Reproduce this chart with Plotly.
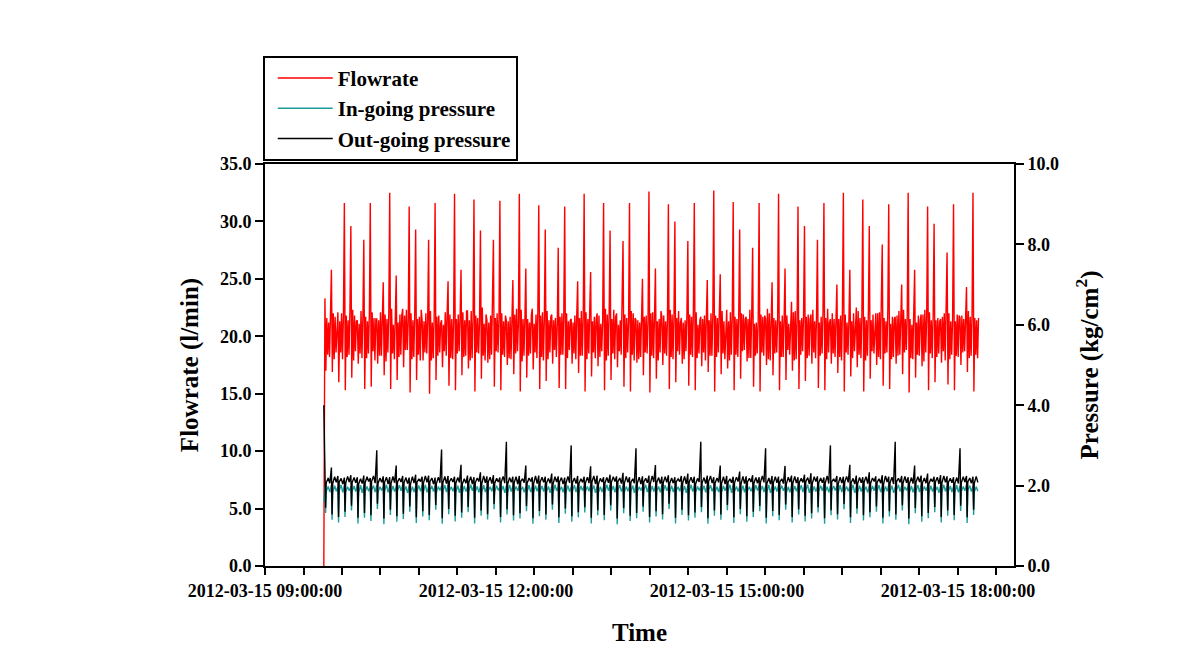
import pandas as pd
import plotly.graph_objects as go

# ---------------- data ----------------
start_time = "2012-03-15 09:45:50"     # logging starts
cycle_start = "2012-03-15 09:46:42"    # first flow spike
cycle_seconds = 303                    # spacing of the pump cycles

start_flow = 0.0
start_in = 1.60
start_out = 4.00

flow_peak = [
    23.3, 25.8, 22.1, 31.6, 29.6, 21.4, 28.4, 31.6, 21.5, 24.7, 32.5, 25.3, 22.4, 31.3, 29.3, 21.4, 28.4, 31.6, 21.4, 24.8,
    32.4, 25.8, 22.2, 31.9, 29.2, 21.4, 28.4, 31.8, 21.4, 24.9, 32.4, 25.9, 22.4, 31.4, 29.3, 21.9, 27.7, 31.3, 21.5, 24.8,
    32.4, 25.6, 22.0, 31.6, 29.2, 22.0, 28.3, 31.6, 21.4, 25.0, 32.6, 25.9, 21.7, 31.5, 30.0, 21.6, 28.3, 31.6, 21.7, 24.9,
    32.7, 25.4, 22.3, 31.7, 29.3, 21.7, 27.7, 31.6, 21.5, 24.7, 32.4, 25.9, 23.0, 31.3, 29.6, 21.9, 28.4, 31.6, 21.5, 24.5,
    32.5, 25.8, 22.5, 31.9, 29.6, 22.0, 28.0, 31.5, 21.7, 24.5, 32.5, 25.8, 21.9, 31.3, 29.8, 21.5, 27.3, 31.5, 21.6, 24.3, 32.5]

flow_trough = [
    17.0, 16.9, 16.0, 15.3, 16.4, 17.6, 15.4, 15.6, 17.6, 16.6, 15.4, 16.2, 17.3, 15.1, 16.2, 17.9, 15.0, 16.2, 17.3, 15.7,
    15.3, 16.6, 17.2, 15.2, 16.3, 17.7, 15.6, 15.3, 17.5, 16.7, 15.2, 16.4, 17.1, 15.4, 16.1, 17.6, 15.5, 15.4, 17.6, 16.8,
    15.2, 16.5, 17.4, 15.3, 16.2, 17.3, 15.6, 15.2, 17.7, 16.6, 15.1, 16.3, 17.5, 15.4, 16.0, 17.6, 15.7, 15.3, 17.4, 16.9,
    15.2, 16.7, 17.2, 15.3, 16.3, 17.8, 15.6, 15.2, 17.5, 16.6, 15.3, 16.2, 17.0, 15.4, 16.1, 17.6, 15.5, 15.3, 17.6, 16.8,
    15.2, 16.5, 17.3, 15.2, 16.3, 17.5, 15.7, 15.4, 17.6, 16.7, 15.1, 16.4, 17.4, 15.3, 16.0, 17.7, 15.8, 15.3, 17.5, 16.9, 15.2]

flow_band_a = [
    21.6, 22.0, 21.3, 21.8, 22.3, 21.1, 21.7, 22.1, 21.4, 21.9, 22.4, 21.2, 21.8, 22.0, 21.5, 21.3, 22.2, 21.7, 21.0, 21.9,
    21.5, 22.1, 21.4, 21.8, 22.5, 21.2, 21.6, 22.0, 21.3, 21.9, 22.3, 21.5, 21.1, 21.8, 22.2, 21.4, 21.7, 22.0, 21.2, 21.6,
    22.1, 21.3, 21.8, 22.4, 21.5, 21.0, 21.9, 22.2, 21.4, 21.7, 22.0, 21.3, 21.8, 22.3, 21.6, 21.2, 21.9, 22.1, 21.5, 21.4,
    21.8, 22.2, 21.3, 21.7, 22.0, 21.5, 21.1, 21.9, 22.4, 21.6, 21.3, 21.8, 22.1, 21.4, 21.7, 22.3, 21.2, 21.6, 22.0, 21.5,
    21.9, 21.3, 22.2, 21.7, 21.4, 22.0, 21.6, 21.1, 21.8, 22.3, 21.5, 21.2, 21.9, 22.1, 21.4, 21.7, 22.0, 21.3, 21.8, 22.2, 21.6]

flow_band_lo = [
    18.4, 18.0, 18.6, 18.2, 17.9, 18.5, 18.1, 18.7, 18.3, 17.8, 18.5, 18.2, 18.8, 18.0, 18.4, 18.6, 17.9, 18.3, 18.7, 18.1,
    18.5, 18.2, 17.9, 18.6, 18.3, 18.0, 18.7, 18.4, 18.1, 18.5, 17.8, 18.3, 18.6, 18.2, 18.0, 18.8, 18.4, 18.1, 18.5, 18.3,
    18.0, 18.6, 18.2, 17.9, 18.5, 18.7, 18.1, 18.4, 18.0, 18.6, 18.3, 17.9, 18.5, 18.2, 18.7, 18.0, 18.4, 18.1, 18.6, 18.3,
    18.2, 18.5, 17.9, 18.4, 18.7, 18.1, 18.3, 18.6, 18.0, 18.5, 18.2, 18.8, 17.9, 18.4, 18.1, 18.6, 18.3, 18.0, 18.5, 18.2,
    18.6, 18.1, 18.4, 17.9, 18.7, 18.2, 18.5, 18.0, 18.3, 18.6, 18.1, 18.4, 17.8, 18.5, 18.2, 18.7, 18.0, 18.3, 18.6, 18.1, 18.4]

flow_band_b = [
    21.2, 21.7, 22.0, 21.4, 21.8, 22.2, 21.3, 21.6, 22.1, 21.5, 21.0, 21.9, 22.3, 21.4, 21.7, 22.0, 21.2, 21.8, 22.1, 21.5,
    21.9, 21.4, 22.2, 21.6, 21.1, 21.8, 22.0, 21.3, 21.7, 22.4, 21.5, 21.2, 21.9, 22.1, 21.4, 21.6, 22.0, 21.3, 21.8, 22.2,
    21.5, 21.7, 21.1, 21.9, 22.3, 21.4, 21.6, 22.0, 21.2, 21.8, 22.1, 21.5, 21.3, 21.9, 22.2, 21.4, 21.7, 21.0, 21.8, 22.0,
    21.6, 21.3, 22.1, 21.5, 21.9, 22.3, 21.2, 21.7, 22.0, 21.4, 21.8, 21.1, 22.2, 21.6, 21.9, 21.3, 21.7, 22.4, 21.5, 21.8,
    21.2, 22.0, 21.6, 21.4, 21.9, 22.1, 21.3, 21.7, 22.2, 21.5, 21.0, 21.8, 22.3, 21.4, 21.6, 22.0, 21.3, 21.9, 21.5, 21.7, 21.4]

flow_band_lo2 = [
    18.2, 18.6, 18.0, 18.4, 18.7, 18.1, 18.5, 17.9, 18.3, 18.6, 18.0, 18.4, 18.8, 18.2, 17.9, 18.5, 18.1, 18.6, 18.3, 18.0,
    18.7, 18.3, 18.1, 18.5, 17.9, 18.4, 18.6, 18.2, 18.0, 18.7, 18.3, 18.5, 18.1, 17.9, 18.6, 18.2, 18.4, 18.8, 18.0, 18.3,
    18.5, 18.1, 18.7, 18.3, 18.0, 18.4, 18.6, 17.9, 18.2, 18.5, 18.1, 18.6, 18.3, 18.0, 18.4, 18.7, 18.2, 18.5, 17.9, 18.3,
    18.6, 18.0, 18.4, 18.2, 18.8, 18.1, 18.5, 18.3, 17.9, 18.6, 18.2, 18.4, 18.0, 18.7, 18.3, 18.1, 18.5, 18.6, 18.2, 17.9,
    18.4, 18.7, 18.1, 18.3, 18.5, 18.0, 18.6, 18.2, 18.4, 18.8, 18.0, 18.3, 18.6, 18.1, 18.5, 17.9, 18.4, 18.2, 18.7, 18.3, 18.1]

flow_band_c = [
    21.8, 21.4, 21.9, 22.2, 21.3, 21.7, 22.0, 21.5, 21.2, 22.1, 21.6, 21.8, 21.3, 21.9, 22.3, 21.5, 21.7, 21.1, 22.0, 21.4,
    21.7, 22.2, 21.5, 21.3, 21.9, 22.1, 21.4, 21.8, 22.0, 21.2, 21.6, 21.9, 22.3, 21.5, 21.7, 21.1, 22.0, 21.4, 21.8, 21.6,
    22.2, 21.5, 21.3, 21.9, 21.7, 22.1, 21.4, 21.6, 22.0, 21.3, 21.8, 22.2, 21.5, 21.7, 21.2, 21.9, 22.3, 21.4, 21.6, 21.8,
    22.0, 21.3, 21.7, 22.1, 21.5, 21.9, 21.2, 21.8, 22.2, 21.4, 21.6, 22.0, 21.3, 21.9, 21.5, 21.7, 22.1, 21.2, 21.8, 22.3,
    21.4, 21.6, 21.9, 22.0, 21.3, 21.7, 22.2, 21.5, 21.1, 21.8, 22.1, 21.4, 21.7, 21.9, 21.3, 22.2, 21.6, 21.8, 21.5, 21.9, 21.6]

out_hi = [
    2.22, 2.45, 2.24, 2.20, 2.26, 2.21, 2.25, 2.19, 2.88, 2.23, 2.21, 2.50, 2.24, 2.20, 2.27, 2.22, 2.25, 2.20, 2.90, 2.24,
    2.22, 2.52, 2.25, 2.21, 2.33, 2.23, 2.26, 2.20, 3.09, 2.22, 2.24, 2.50, 2.21, 2.25, 2.22, 2.30, 2.23, 2.20, 3.00, 2.24,
    2.22, 2.48, 2.25, 2.21, 2.27, 2.23, 2.32, 2.21, 2.93, 2.23, 2.25, 2.51, 2.22, 2.26, 2.21, 2.24, 2.30, 2.22, 3.09, 2.25,
    2.21, 2.50, 2.24, 2.22, 2.35, 2.23, 2.26, 2.21, 2.93, 2.24, 2.22, 2.49, 2.25, 2.21, 2.27, 2.31, 2.23, 2.20, 3.00, 2.24,
    2.22, 2.52, 2.25, 2.21, 2.33, 2.23, 2.26, 2.22, 3.09, 2.24, 2.21, 2.50, 2.25, 2.30, 2.22, 2.26, 2.23, 2.21, 2.93, 2.24, 2.22]

out_trough = [
    1.45, 1.28, 1.22, 1.35, 1.50, 1.20, 1.32, 1.26, 1.55, 1.18, 1.40, 1.24, 1.30, 1.48, 1.21, 1.36, 1.27, 1.52, 1.19, 1.42,
    1.25, 1.33, 1.47, 1.20, 1.38, 1.29, 1.54, 1.22, 1.41, 1.26, 1.31, 1.49, 1.19, 1.37, 1.28, 1.53, 1.21, 1.43, 1.24, 1.34,
    1.46, 1.20, 1.39, 1.27, 1.51, 1.18, 1.44, 1.25, 1.32, 1.48, 1.22, 1.36, 1.29, 1.55, 1.20, 1.40, 1.26, 1.33, 1.47, 1.19,
    1.38, 1.28, 1.52, 1.21, 1.42, 1.24, 1.35, 1.49, 1.20, 1.37, 1.27, 1.53, 1.22, 1.41, 1.25, 1.31, 1.46, 1.19, 1.39, 1.29,
    1.54, 1.21, 1.43, 1.26, 1.34, 1.48, 1.20, 1.36, 1.28, 1.51, 1.18, 1.44, 1.24, 1.32, 1.47, 1.22, 1.38, 1.27, 1.50, 1.21, 1.40]

out_lo = [
    2.07, 2.05, 2.09, 2.06, 2.08, 2.04, 2.07, 2.10, 2.06, 2.08, 2.05, 2.09, 2.07, 2.04, 2.08, 2.06, 2.10, 2.05, 2.07, 2.09,
    2.06, 2.04, 2.08, 2.07, 2.05, 2.09, 2.06, 2.08, 2.04, 2.07, 2.10, 2.06, 2.05, 2.08, 2.07, 2.04, 2.09, 2.06, 2.08, 2.05,
    2.07, 2.09, 2.04, 2.06, 2.08, 2.10, 2.05, 2.07, 2.06, 2.09, 2.04, 2.08, 2.07, 2.05, 2.09, 2.06, 2.08, 2.04, 2.07, 2.10,
    2.06, 2.05, 2.08, 2.07, 2.04, 2.09, 2.06, 2.08, 2.05, 2.07, 2.09, 2.04, 2.06, 2.08, 2.10, 2.05, 2.07, 2.06, 2.09, 2.04,
    2.08, 2.07, 2.05, 2.09, 2.06, 2.08, 2.04, 2.07, 2.10, 2.06, 2.05, 2.08, 2.07, 2.04, 2.09, 2.06, 2.08, 2.05, 2.07, 2.09, 2.06]

out_hi2 = [
    2.19, 2.22, 2.18, 2.23, 2.20, 2.17, 2.22, 2.24, 2.19, 2.21, 2.23, 2.18, 2.20, 2.22, 2.17, 2.24, 2.19, 2.21, 2.23, 2.18,
    2.20, 2.17, 2.22, 2.19, 2.24, 2.21, 2.18, 2.23, 2.20, 2.22, 2.17, 2.19, 2.24, 2.21, 2.18, 2.22, 2.20, 2.23, 2.19, 2.17,
    2.21, 2.24, 2.18, 2.20, 2.22, 2.19, 2.23, 2.17, 2.21, 2.18, 2.24, 2.20, 2.22, 2.19, 2.17, 2.23, 2.21, 2.18, 2.20, 2.24,
    2.19, 2.22, 2.17, 2.21, 2.23, 2.18, 2.20, 2.24, 2.19, 2.22, 2.17, 2.21, 2.23, 2.18, 2.20, 2.22, 2.19, 2.24, 2.17, 2.21,
    2.23, 2.18, 2.20, 2.22, 2.19, 2.17, 2.24, 2.21, 2.18, 2.23, 2.20, 2.22, 2.19, 2.17, 2.21, 2.24, 2.18, 2.20, 2.22, 2.19, 2.23]

out_lo2 = [
    2.06, 2.08, 2.04, 2.09, 2.07, 2.05, 2.10, 2.06, 2.08, 2.04, 2.07, 2.09, 2.05, 2.06, 2.10, 2.08, 2.04, 2.07, 2.05, 2.09,
    2.08, 2.06, 2.04, 2.10, 2.07, 2.05, 2.09, 2.06, 2.08, 2.04, 2.07, 2.10, 2.05, 2.08, 2.06, 2.09, 2.04, 2.07, 2.05, 2.08,
    2.06, 2.04, 2.09, 2.07, 2.10, 2.05, 2.08, 2.06, 2.04, 2.07, 2.09, 2.05, 2.08, 2.06, 2.10, 2.04, 2.07, 2.09, 2.05, 2.06,
    2.08, 2.04, 2.07, 2.10, 2.05, 2.09, 2.06, 2.08, 2.04, 2.07, 2.05, 2.09, 2.06, 2.08, 2.04, 2.10, 2.07, 2.05, 2.09, 2.06,
    2.08, 2.04, 2.07, 2.05, 2.10, 2.06, 2.09, 2.04, 2.08, 2.07, 2.05, 2.09, 2.06, 2.10, 2.04, 2.08, 2.07, 2.05, 2.09, 2.06, 2.08]

in_hi = [
    1.99, 2.01, 1.97, 2.00, 1.98, 2.02, 1.99, 1.97, 2.01, 1.98, 2.00, 1.97, 2.02, 1.99, 1.98, 2.01, 1.97, 2.00, 1.99, 2.02,
    1.98, 2.00, 1.97, 2.01, 1.99, 1.98, 2.02, 1.97, 2.00, 1.99, 2.01, 1.98, 1.97, 2.00, 2.02, 1.99, 1.98, 2.01, 1.97, 2.00,
    1.99, 2.02, 1.98, 1.97, 2.01, 2.00, 1.99, 1.98, 2.02, 1.97, 2.00, 1.99, 2.01, 1.98, 1.97, 2.02, 2.00, 1.99, 1.98, 2.01,
    1.97, 2.00, 1.99, 2.02, 1.98, 2.01, 1.97, 2.00, 1.99, 1.98, 2.02, 1.97, 2.01, 1.99, 2.00, 1.98, 1.97, 2.02, 2.00, 1.99,
    2.01, 1.98, 1.97, 2.00, 1.99, 2.02, 1.98, 2.01, 1.97, 2.00, 1.99, 1.98, 2.02, 2.00, 1.97, 2.01, 1.99, 1.98, 2.00, 2.02, 1.99]

in_trough = [
    1.32, 1.15, 1.08, 1.22, 1.38, 1.06, 1.20, 1.12, 1.42, 1.04, 1.27, 1.10, 1.17, 1.35, 1.07, 1.23, 1.14, 1.40, 1.05, 1.29,
    1.11, 1.20, 1.34, 1.06, 1.25, 1.16, 1.41, 1.08, 1.28, 1.13, 1.18, 1.36, 1.05, 1.24, 1.15, 1.40, 1.07, 1.30, 1.10, 1.21,
    1.33, 1.06, 1.26, 1.14, 1.38, 1.04, 1.31, 1.12, 1.19, 1.35, 1.08, 1.23, 1.16, 1.42, 1.06, 1.27, 1.13, 1.20, 1.34, 1.05,
    1.25, 1.15, 1.39, 1.07, 1.29, 1.10, 1.22, 1.36, 1.06, 1.24, 1.14, 1.40, 1.08, 1.28, 1.11, 1.18, 1.33, 1.05, 1.26, 1.16,
    1.41, 1.07, 1.30, 1.13, 1.21, 1.35, 1.06, 1.23, 1.15, 1.38, 1.04, 1.31, 1.10, 1.19, 1.34, 1.08, 1.25, 1.14, 1.37, 1.07, 1.27]

in_lo = [
    1.85, 1.83, 1.87, 1.84, 1.86, 1.82, 1.85, 1.88, 1.84, 1.86, 1.83, 1.87, 1.85, 1.82, 1.86, 1.84, 1.88, 1.83, 1.85, 1.87,
    1.84, 1.82, 1.86, 1.85, 1.83, 1.87, 1.84, 1.86, 1.82, 1.85, 1.88, 1.84, 1.83, 1.86, 1.85, 1.82, 1.87, 1.84, 1.86, 1.83,
    1.85, 1.87, 1.82, 1.84, 1.86, 1.88, 1.83, 1.85, 1.84, 1.87, 1.82, 1.86, 1.85, 1.83, 1.87, 1.84, 1.86, 1.82, 1.85, 1.88,
    1.84, 1.83, 1.86, 1.85, 1.82, 1.87, 1.84, 1.86, 1.83, 1.85, 1.87, 1.82, 1.84, 1.86, 1.88, 1.83, 1.85, 1.84, 1.87, 1.82,
    1.86, 1.85, 1.83, 1.87, 1.84, 1.86, 1.82, 1.85, 1.88, 1.84, 1.83, 1.86, 1.85, 1.82, 1.87, 1.84, 1.86, 1.83, 1.85, 1.87, 1.84]

in_hi2 = [
    1.98, 2.00, 2.02, 1.97, 1.99, 2.01, 1.98, 2.00, 1.97, 2.02, 1.99, 2.01, 1.98, 1.97, 2.00, 2.02, 1.99, 1.98, 2.01, 1.97,
    2.00, 1.99, 2.02, 1.98, 2.01, 1.97, 2.00, 1.99, 2.02, 1.98, 1.97, 2.01, 2.00, 1.99, 1.98, 2.02, 1.97, 2.00, 2.01, 1.99,
    1.98, 2.00, 1.97, 2.02, 1.99, 2.01, 1.98, 2.00, 1.97, 2.02, 1.99, 1.98, 2.01, 2.00, 1.97, 1.99, 2.02, 1.98, 2.00, 2.01,
    1.97, 1.99, 2.02, 1.98, 2.00, 1.97, 2.01, 1.99, 2.02, 1.98, 2.00, 1.97, 1.99, 2.01, 2.02, 1.98, 2.00, 1.97, 1.99, 2.01,
    1.98, 2.02, 2.00, 1.97, 1.99, 2.01, 1.98, 2.00, 2.02, 1.97, 1.99, 2.01, 1.98, 2.00, 1.97, 2.02, 1.99, 2.01, 1.98, 2.00, 1.97]

in_lo2 = [
    1.84, 1.86, 1.83, 1.87, 1.85, 1.82, 1.86, 1.84, 1.88, 1.83, 1.85, 1.87, 1.82, 1.84, 1.86, 1.83, 1.85, 1.88, 1.84, 1.86,
    1.82, 1.85, 1.87, 1.83, 1.84, 1.86, 1.88, 1.82, 1.85, 1.87, 1.83, 1.84, 1.86, 1.85, 1.82, 1.87, 1.83, 1.85, 1.84, 1.88,
    1.86, 1.82, 1.84, 1.87, 1.83, 1.85, 1.86, 1.82, 1.88, 1.84, 1.85, 1.83, 1.87, 1.84, 1.86, 1.82, 1.85, 1.88, 1.83, 1.86,
    1.84, 1.87, 1.82, 1.85, 1.83, 1.86, 1.88, 1.84, 1.82, 1.85, 1.87, 1.83, 1.86, 1.84, 1.82, 1.85, 1.87, 1.83, 1.88, 1.84,
    1.86, 1.82, 1.85, 1.83, 1.87, 1.84, 1.86, 1.82, 1.85, 1.88, 1.83, 1.84, 1.87, 1.85, 1.82, 1.86, 1.84, 1.83, 1.87, 1.85, 1.86]

x_tick_vals = ["2012-03-15 09:00:00", "2012-03-15 12:00:00",
               "2012-03-15 15:00:00", "2012-03-15 18:00:00"]
x_range = ["2012-03-15 09:00:00", "2012-03-15 18:43:40"]

# sampling offsets inside one pump cycle (fraction of the cycle)
flow_offsets = [0.0, 1 / 7, 2 / 7, 3 / 7, 4 / 7, 5 / 7, 6 / 7]
press_offsets = [0.0, 0.1, 0.2, 0.5, 0.75]

# ---------------- build the series ----------------
t0 = pd.Timestamp(cycle_start)
per = pd.Timedelta(seconds=cycle_seconds)
n = len(flow_peak)

flow_t = [pd.Timestamp(start_time)]
flow_v = [start_flow]
p_t = [pd.Timestamp(start_time)]
in_v = [start_in]
out_v = [start_out]

for k in range(n):
    base = t0 + k * per
    fvals = [flow_peak[k], flow_trough[k], flow_band_a[k], flow_band_lo[k],
             flow_band_b[k], flow_band_lo2[k], flow_band_c[k]]
    for off, v in zip(flow_offsets, fvals):
        flow_t.append(base + per * off)
        flow_v.append(v)
    ivals = [in_hi[k], in_trough[k], in_lo[k], in_hi2[k], in_lo2[k]]
    ovals = [out_hi[k], out_trough[k], out_lo[k], out_hi2[k], out_lo2[k]]
    for off, iv, ov in zip(press_offsets, ivals, ovals):
        p_t.append(base + per * off)
        in_v.append(iv)
        out_v.append(ov)

FONT = "Liberation Serif"
TEAL = "#1e9c9c"

fig = go.Figure()
fig.add_trace(go.Scatter(x=flow_t, y=flow_v, mode="lines", name="Flowrate",
                         line=dict(color="#ff0000", width=1.4)))
fig.add_trace(go.Scatter(x=p_t, y=in_v, mode="lines", name="In-going pressure",
                         line=dict(color=TEAL, width=1.4), yaxis="y2"))
fig.add_trace(go.Scatter(x=p_t, y=out_v, mode="lines", name="Out-going pressure",
                         line=dict(color="#000000", width=1.4), yaxis="y2"))

tickfont = dict(family=FONT, size=18, color="black", weight="bold")
titlefont = dict(family=FONT, size=25, color="black", weight="bold")

fig.update_layout(
    width=1195, height=649,
    margin=dict(l=257, r=189, t=156, b=91),
    plot_bgcolor="white", paper_bgcolor="white",
    showlegend=True,
    legend=dict(x=-0.003, y=1.008, xanchor="left", yanchor="bottom",
                bgcolor="white", bordercolor="black", borderwidth=2,
                font=dict(family=FONT, size=21, color="black", weight="bold"),
                itemwidth=55, indentation=8, tracegroupgap=0),
    xaxis=dict(type="date", range=x_range, tickmode="array", tickvals=x_tick_vals,
               ticktext=x_tick_vals, ticks="outside", ticklen=7, tickwidth=1.5,
               tickcolor="black", showline=True, linewidth=2, linecolor="black",
               mirror=True, showgrid=False, zeroline=False, tickfont=tickfont,
               minor=dict(dtick=30 * 60 * 1000, tick0="2012-03-15 09:00:00",
                          ticks="outside", ticklen=7, tickwidth=1.5, tickcolor="black",
                          showgrid=False),
               title=dict(text="Time", font=titlefont, standoff=24)),
    yaxis=dict(range=[0, 35], dtick=5, tick0=0, tickformat=".1f", ticks="outside",
               ticklen=8, tickwidth=1.5, tickcolor="black", showline=True,
               linewidth=2, linecolor="black", showgrid=False, zeroline=False,
               tickfont=tickfont,
               title=dict(text="Flowrate (l/min)", font=titlefont, standoff=14)),
    yaxis2=dict(range=[0, 10], dtick=2, tick0=0, tickformat=".1f", ticks="outside",
                ticklen=8, tickwidth=1.5, tickcolor="black", showline=True,
                linewidth=2, linecolor="black", showgrid=False, zeroline=False,
                overlaying="y", side="right", tickfont=tickfont,
                title=dict(text="Pressure (kg/cm<sup>2</sup>)", font=titlefont, standoff=22)),
)

fig.write_html("out.html")
